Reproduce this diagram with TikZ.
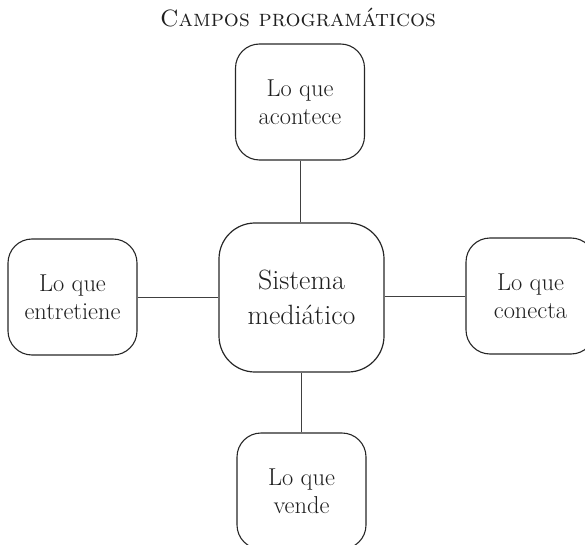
\documentclass[tikz,border=0pt]{standalone}
\usepackage{fontspec}
\begin{document}
\begin{tikzpicture}[x=1bp,y=-1bp,
  boxstyle/.style={draw=black!85, line width=1.1bp, rounded corners=24bp, minimum width=129bp, minimum height=116bp, inner sep=0pt, align=center, text=black!88, font=\fontsize{24.5}{28}\selectfont},
  mainbox/.style={draw=black!85, line width=1.2bp, rounded corners=36bp, minimum width=165bp, minimum height=149bp, inner sep=0pt, align=center, text=black!88, font=\fontsize{28}{35}\selectfont},
  linkstyle/.style={draw=black!75, line width=1bp}]
\useasboundingbox (0,0) rectangle (585,545);
\node[text=black!88, font=\fontsize{23.7}{26}\selectfont\scshape, anchor=base] (title) at (298,27) {Campos programáticos};
\node[mainbox] (center) at (301.5,297.5) {Sistema\\mediático};
\node[boxstyle] (top) at (300,102) {Lo que\\acontece};
\node[boxstyle] (left) at (72.5,297) {Lo que\\entretiene};
\node[boxstyle] (right) at (530.5,296) {Lo que\\conecta};
\node[boxstyle] (bottom) at (301.5,491) {Lo que\\vende};
\draw[linkstyle] (top.south) -- (top.south |- center.north);
\draw[linkstyle] (left.east) -- (left.east -| center.west);
\draw[linkstyle] (right.west) -- (right.west -| center.east);
\draw[linkstyle] (bottom.north) -- (bottom.north |- center.south);
\end{tikzpicture}
\end{document}
